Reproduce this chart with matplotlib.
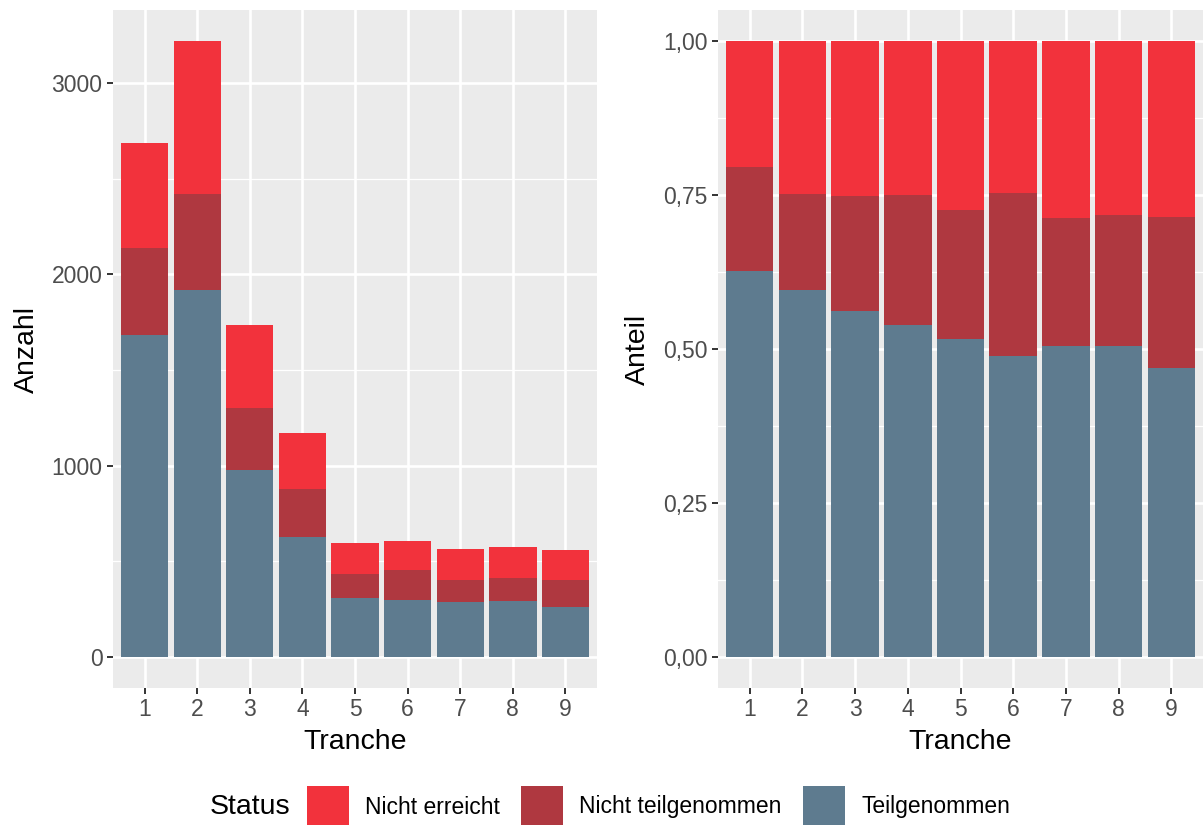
import matplotlib
matplotlib.use("Agg")
import matplotlib.pyplot as plt
import numpy as np
from matplotlib.patches import Rectangle

# Daten
tranche = [1, 2, 3, 4, 5, 6, 7, 8, 9]
status = ["Nicht erreicht", "Nicht teilgenommen", "Teilgenommen"]
teilgenommen = [1683, 1919, 976, 630, 309, 297, 286, 291, 263]
nicht_teilgenommen = [454, 499, 324, 247, 125, 161, 117, 123, 138]
nicht_erreicht = [548, 802, 436, 292, 164, 150, 163, 163, 160]

farben = {"Nicht erreicht": "#F2323C",
          "Nicht teilgenommen": "#AF3840",
          "Teilgenommen": "#5E7B8F"}

plt.rcParams['font.family'] = ['Liberation Sans', 'DejaVu Sans']

W, H = 1203, 825
fig = plt.figure(figsize=(W / 100, H / 100), dpi=100)

def px_axes(x0, x1, y0, y1):
    return fig.add_axes([x0 / W, (H - y1) / H, (x1 - x0) / W, (y1 - y0) / H])

ax1 = px_axes(113, 597, 10, 688)
ax2 = px_axes(718, 1203, 10, 688)

x = np.array(tranche)
teil = np.array(teilgenommen, dtype=float)
nteil = np.array(nicht_teilgenommen, dtype=float)
nerr = np.array(nicht_erreicht, dtype=float)
total = teil + nteil + nerr

def stack(ax, a, b, c):
    ax.bar(x, a, width=0.9, color=farben["Teilgenommen"], zorder=3)
    ax.bar(x, b, width=0.9, bottom=a, color=farben["Nicht teilgenommen"], zorder=3)
    ax.bar(x, c, width=0.9, bottom=a + b, color=farben["Nicht erreicht"], zorder=3)

stack(ax1, teil, nteil, nerr)
stack(ax2, teil / total, nteil / total, nerr / total)

def style(ax, ymax, major, minor, fmt, ylabel):
    ax.set_facecolor("#EBEBEB")
    for s in ax.spines.values():
        s.set_visible(False)
    ax.set_xlim(0.4, 9.6)
    ax.set_ylim(-0.05 * ymax, 1.05 * ymax)
    ax.set_xticks(x)
    ax.set_xticklabels([str(t) for t in tranche])
    ax.set_yticks(major)
    ax.set_yticklabels([fmt(v) for v in major])
    ax.set_yticks(minor, minor=True)
    ax.grid(True, which="major", color="white", lw=1.9, zorder=0)
    ax.grid(True, which="minor", axis="y", color="white", lw=0.9, zorder=0)
    ax.tick_params(which="major", length=4.5, width=1.4, color="#333333",
                   labelcolor="#4D4D4D", labelsize=16.5, pad=3)
    ax.tick_params(which="minor", length=0)
    ax.set_axisbelow(True)
    ax.set_xlabel("Tranche", fontsize=20.5, labelpad=5.5)
    ax.set_ylabel(ylabel, fontsize=20.5, labelpad=8.5)

style(ax1, total.max(), [0, 1000, 2000, 3000], [500, 1500, 2500],
      lambda v: f"{v:d}", "Anzahl")
style(ax2, 1.0, [0, 0.25, 0.5, 0.75, 1.0], [0.125, 0.375, 0.625, 0.875],
      lambda v: f"{v:.2f}".replace(".", ","), "Anteil")

# Legende
yc = 807
fig.text(210 / W, 1 - yc / H, "Status", fontsize=20.5, va="center", ha="left")
keys = [(307, "Nicht erreicht"), (521, "Nicht teilgenommen"), (803, "Teilgenommen")]
for kx, name in keys:
    fig.add_artist(Rectangle((kx / W, 1 - (yc + 21) / H), 42 / W, 42 / H,
                             transform=fig.transFigure, facecolor=farben[name],
                             edgecolor="none"))
    fig.text((kx + 58) / W, 1 - yc / H, name, fontsize=16.5, va="center", ha="left")

fig.savefig("out.png", dpi=100)
